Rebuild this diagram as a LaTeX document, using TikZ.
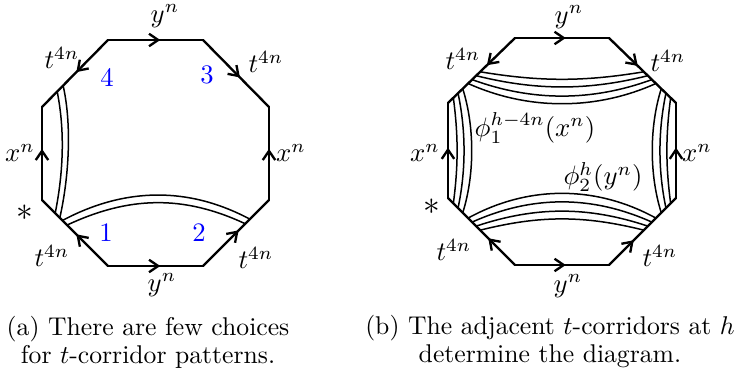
\documentclass[tikz,border=0pt]{standalone}
\usepackage{amsmath}
\usepackage{tikz}
\usetikzlibrary{calc, arrows.meta, decorations.markings}

\begin{document}
\begin{tikzpicture}[
    x=0.6pt, y=-0.6pt,
    side/.style={line width=1.4pt, line cap=round, line join=round},
    corr/.style={line width=0.9pt},
    midarr/.style={postaction={decorate}, decoration={markings,
        mark=at position #1 with {\arrow{Straight Barb[length=5.5pt, width=7.5pt]}}}},
    lbl/.style={scale=1.6, inner sep=0pt},
    num/.style={lbl, text=blue},
    basept/.style={scale=2, inner sep=0pt},
    captxt/.style={scale=1.54, align=center, inner sep=0pt}
]
    \path[use as bounding box] (0,0) rectangle (740,375);

    % (a) octagon corners
    \coordinate (a1) at (108,40);
    \coordinate (a2) at (203,40);
    \coordinate (a3) at (269,107);
    \coordinate (a4) at (269,200);
    \coordinate (a5) at (203,266);
    \coordinate (a6) at (108,266);
    \coordinate (a7) at (42,200);
    \coordinate (a8) at (42,107);

    % (a) corridors
    \foreach \s/\e/\d [count=\i] in {0.23/0.20/8, 0.32/0.27/9} {
        \coordinate (av\i) at ($(a8)!\s!(a1)$);
        \coordinate (aw\i) at ($(a7)!\e!(a6)$);
        \draw[corr] (av\i) .. controls +(\d,40) and +(\d,-40) .. (aw\i);
    }
    \foreach \s/\e/\d [count=\i] in {0.31/0.29/33, 0.38/0.36/29} {
        \coordinate (ah\i) at ($(a7)!\s!(a6)$);
        \coordinate (ak\i) at ($(a4)!\e!(a5)$);
        \draw[corr] (ah\i) .. controls +(62,-\d) and +(-62,-\d) .. (ak\i);
    }

    % (a) sides
    \foreach \p/\q/\m in {a1/a2/0.55, a2/a3/0.56, a4/a3/0.55, a5/a4/0.54,
                          a6/a5/0.55, a6/a7/0.48, a7/a8/0.55, a1/a8/0.48}
        \draw[side, midarr=\m] (\p) -- (\q);

    % (a) labels
    \node[lbl] (aytop) at (165,16)  {$y^n$};
    \node[lbl] (aybot) at (162,285) {$y^n$};
    \node[lbl] (atul)  at (62,58)   {$t^{4n}$};
    \node[lbl] (atur)  at (266,62)  {$t^{4n}$};
    \node[lbl] (atll)  at (52,256)  {$t^{4n}$};
    \node[lbl] (atlr)  at (256,258) {$t^{4n}$};
    \node[lbl] (axl)   at (20,153)  {$x^n$};
    \node[lbl] (axr)   at (291,153) {$x^n$};
    \node[basept] (abase) at (25,213) {$\ast$};
    \node[num] (n4) at (107,77)  {4};
    \node[num] (n3) at (207,75)  {3};
    \node[num] (n1) at (106,233) {1};
    \node[num] (n2) at (199,233) {2};

    % (b) octagon corners
    \coordinate (b1) at (515,38);
    \coordinate (b2) at (609,38);
    \coordinate (b3) at (676,103);
    \coordinate (b4) at (676,198);
    \coordinate (b5) at (609,265);
    \coordinate (b6) at (515,265);
    \coordinate (b7) at (448,198);
    \coordinate (b8) at (448,103);

    % (b) corridors
    \foreach \t/\d [count=\i] in {0.08/5, 0.15/8, 0.22/12} {
        \coordinate (bv\i) at ($(b8)!\t!(b1)$);
        \coordinate (bw\i) at ($(b7)!\t!(b6)$);
        \coordinate (bx\i) at ($(b3)!\t!(b2)$);
        \coordinate (by\i) at ($(b4)!\t!(b5)$);
        \draw[corr] (bv\i) .. controls +(\d,38) and +(\d,-38) .. (bw\i);
        \draw[corr] (bx\i) .. controls +(-\d,38) and +(-\d,-38) .. (by\i);
    }
    \foreach \t/\d/\e [count=\i] in {0.30/27/33, 0.36/22/27, 0.42/15/20, 0.48/10/15} {
        \coordinate (bt\i) at ($(b8)!\t!(b1)$);
        \coordinate (bu\i) at ($(b3)!\t!(b2)$);
        \coordinate (bb\i) at ($(b7)!\t!(b6)$);
        \coordinate (bc\i) at ($(b4)!\t!(b5)$);
        \draw[corr] (bt\i) .. controls +(60,\d) and +(-60,\d) .. (bu\i);
        \draw[corr] (bb\i) .. controls +(60,-\e) and +(-60,-\e) .. (bc\i);
    }

    % (b) sides
    \foreach \p/\q/\m in {b1/b2/0.54, b2/b3/0.43, b4/b3/0.53, b5/b4/0.37,
                          b6/b5/0.54, b6/b7/0.40, b7/b8/0.53, b1/b8/0.42}
        \draw[side, midarr=\m] (\p) -- (\q);

    % (b) labels
    \node[lbl] (bytop) at (569,17)  {$y^n$};
    \node[lbl] (bybot) at (568,286) {$y^n$};
    \node[lbl] (btul)  at (463,59)  {$t^{4n}$};
    \node[lbl] (btur)  at (668,61)  {$t^{4n}$};
    \node[lbl] (btll)  at (454,250) {$t^{4n}$};
    \node[lbl] (btlr)  at (660,256) {$t^{4n}$};
    \node[lbl] (bxl)   at (425,153) {$x^n$};
    \node[lbl] (bxr)   at (697,153) {$x^n$};
    \node[basept] (bbase) at (432,207) {$\ast$};
    \node[lbl] (phi1) at (535,128) {$\phi_1^{h-4n}(x^n)$};
    \node[lbl] (phi2) at (603,177) {$\phi_2^h(y^n)$};

    % captions
    \node[captxt] (capa) at (148,342) {(a) There are few choices\\[-1.1pt] for $t$-corridor patterns.};
    \node[captxt] (capb) at (550,342) {(b) The adjacent $t$-corridors at $h$\\[-1.1pt] determine the diagram.};
\end{tikzpicture}
\end{document}
